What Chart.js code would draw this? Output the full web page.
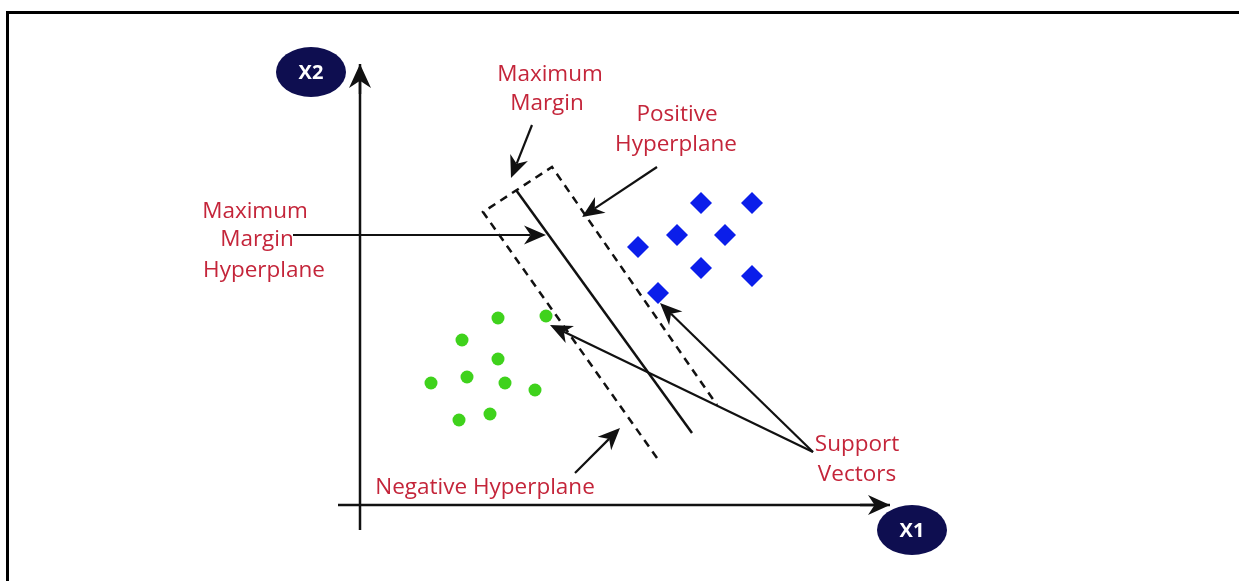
<!DOCTYPE html>
<html>
<head>
<meta charset="utf-8">
<script src="https://cdn.jsdelivr.net/npm/chart.js@4"></script>
<style>
    body { margin: 0; background: #fff; }
    #wrap { position: relative; width: 1239px; height: 581px; }
    #frame { position: absolute; left: 6px; top: 11px; right: 0; bottom: 0; border-top: 3px solid #000; border-left: 3px solid #000; pointer-events: none; }
</style>
</head>
<body>
<div id="wrap">
    <canvas id="svm-chart" width="1239" height="581"></canvas>
    <div id="frame"></div>
</div>
<script>
// class -1 (green dots)
const greenX = [2.04, 2.76, 3.72, 2.76, 1.42, 2.14, 2.90, 3.50, 1.98, 2.60];
const greenY = [3.30, 3.74, 3.78, 2.92, 2.44, 2.56, 2.44, 2.30, 1.70, 1.82];

// class +1 (blue diamonds)
const blueX = [6.82, 7.84, 5.56, 6.34, 7.30, 6.82, 7.84, 5.96];
const blueY = [6.04, 6.04, 5.16, 5.40, 5.40, 4.74, 4.58, 4.24];

// maximum margin hyperplane (solid)
const hyperX = [3.12, 6.64];
const hyperY = [6.30, 1.44];

// negative + positive hyperplane (dashed), joined at the top
const marginX = [5.94, 2.46, 3.84, 7.14];
const marginY = [0.94, 5.86, 6.76, 2.00];

// axes
const axisX1 = { x: [-0.44, 10.6], y: [0, 0] };
const axisX2 = { x: [0, 0], y: [-0.5, 8.82] };

// annotation arrows [fromX, fromY, toX, toY]
const arrows = [
    [3.44, 7.60, 3.02, 6.54],   // maximum margin
    [5.94, 6.76, 4.44, 5.76],   // positive hyperplane
    [-1.34, 5.40, 3.72, 5.40],  // maximum margin hyperplane
    [9.06, 1.06, 3.80, 3.60],   // support vector (green)
    [9.06, 1.06, 6.00, 4.04],   // support vector (blue)
    [4.30, 0.64, 5.20, 1.54]    // negative hyperplane
];

// labels [text, x, y]
const labels = [
    ['Maximum', 3.80, 8.60],
    ['Margin', 3.74, 8.02],
    ['Positive', 6.34, 7.80],
    ['Hyperplane', 6.32, 7.20],
    ['Maximum', -2.10, 5.86],
    ['Margin', -2.06, 5.30],
    ['Hyperplane', -1.92, 4.68],
    ['Negative Hyperplane', 2.50, 0.34],
    ['Support', 9.94, 1.20],
    ['Vectors', 9.94, 0.60]
];

// axis name badges [text, x, y]
const badges = [
    ['X2', -0.98, 8.66],
    ['X1', 11.04, -0.50]
];

function toPoints(xs, ys) {
    return xs.map((x, i) => ({ x: x, y: ys[i] }));
}

function drawArrow(ctx, x0, y0, x1, y1, len, wid) {
    const ang = Math.atan2(y1 - y0, x1 - x0);
    const ux = Math.cos(ang), uy = Math.sin(ang);
    const nx = -uy, ny = ux;
    const bx = x1 - ux * len, by = y1 - uy * len;   // base of head
    const kx = x1 - ux * len * 0.7, ky = y1 - uy * len * 0.7; // notch
    ctx.beginPath();
    ctx.moveTo(x0, y0);
    ctx.lineTo(kx, ky);
    ctx.stroke();
    ctx.beginPath();
    ctx.moveTo(x1, y1);
    ctx.lineTo(bx + nx * wid / 2, by + ny * wid / 2);
    ctx.lineTo(kx, ky);
    ctx.lineTo(bx - nx * wid / 2, by - ny * wid / 2);
    ctx.closePath();
    ctx.fill();
}

const annotations = {
    id: 'annotations',
    afterDatasetsDraw(chart) {
        const ctx = chart.ctx;
        const xs = chart.scales.x, ys = chart.scales.y;
        const px = v => xs.getPixelForValue(v);
        const py = v => ys.getPixelForValue(v);

        ctx.save();
        ctx.strokeStyle = '#111';
        ctx.fillStyle = '#111';

        // axis arrow heads
        ctx.lineWidth = 2.5;
        drawArrow(ctx, px(axisX1.x[1]) - 30, py(0), px(axisX1.x[1]), py(0), 22, 20);
        drawArrow(ctx, px(0), py(axisX2.y[1]) + 30, px(0), py(axisX2.y[1]), 24, 22);

        // pointer arrows
        ctx.lineWidth = 2.2;
        arrows.forEach(a => {
            drawArrow(ctx, px(a[0]), py(a[1]), px(a[2]), py(a[3]), 22, 19);
        });

        // red labels
        ctx.fillStyle = '#c4253a';
        ctx.font = '22.5px "Open Sans"';
        ctx.textAlign = 'center';
        ctx.textBaseline = 'middle';
        labels.forEach(l => {
            ctx.fillText(l[0], px(l[1]), py(l[2]));
        });

        // X1 / X2 badges
        badges.forEach(b => {
            ctx.fillStyle = '#0e0e50';
            ctx.beginPath();
            ctx.ellipse(px(b[1]), py(b[2]), 35, 25, 0, 0, Math.PI * 2);
            ctx.fill();
            ctx.fillStyle = '#fff';
            ctx.font = 'bold 20px "Open Sans"';
            ctx.fillText(b[0], px(b[1]), py(b[2]) + 1);
        });
        ctx.restore();
    }
};

document.addEventListener('DOMContentLoaded', () => {
    const ctx = document.getElementById('svm-chart').getContext('2d');
    new Chart(ctx, {
        type: 'scatter',
        data: {
            datasets: [{
                label: 'Class -1',
                data: toPoints(greenX, greenY),
                backgroundColor: '#3fd21c',
                borderWidth: 0,
                pointRadius: 6.5,
                pointStyle: 'circle'
            }, {
                label: 'Class +1',
                data: toPoints(blueX, blueY),
                backgroundColor: '#0b1eea',
                borderWidth: 0,
                pointRadius: 11,
                pointStyle: 'rectRot'
            }, {
                label: 'Hyperplane',
                data: toPoints(hyperX, hyperY),
                showLine: true,
                borderColor: '#111',
                borderWidth: 2.5,
                pointRadius: 0
            }, {
                label: 'Margin',
                data: toPoints(marginX, marginY),
                showLine: true,
                borderColor: '#111',
                borderWidth: 2.5,
                borderDash: [8, 6],
                pointRadius: 0
            }, {
                label: 'X1 axis',
                data: toPoints(axisX1.x, axisX1.y),
                showLine: true,
                borderColor: '#111',
                borderWidth: 2.5,
                pointRadius: 0
            }, {
                label: 'X2 axis',
                data: toPoints(axisX2.x, axisX2.y),
                showLine: true,
                borderColor: '#111',
                borderWidth: 2.5,
                pointRadius: 0
            }]
        },
        options: {
            responsive: false,
            animation: false,
            layout: { padding: 0, autoPadding: false },
            scales: {
                x: { type: 'linear', min: -7.2, max: 17.58, display: false },
                y: { type: 'linear', min: -1.52, max: 10.1, display: false }
            },
            plugins: {
                legend: { display: false },
                tooltip: { enabled: false }
            }
        },
        plugins: [annotations]
    });
});
</script>
</body>
</html>
